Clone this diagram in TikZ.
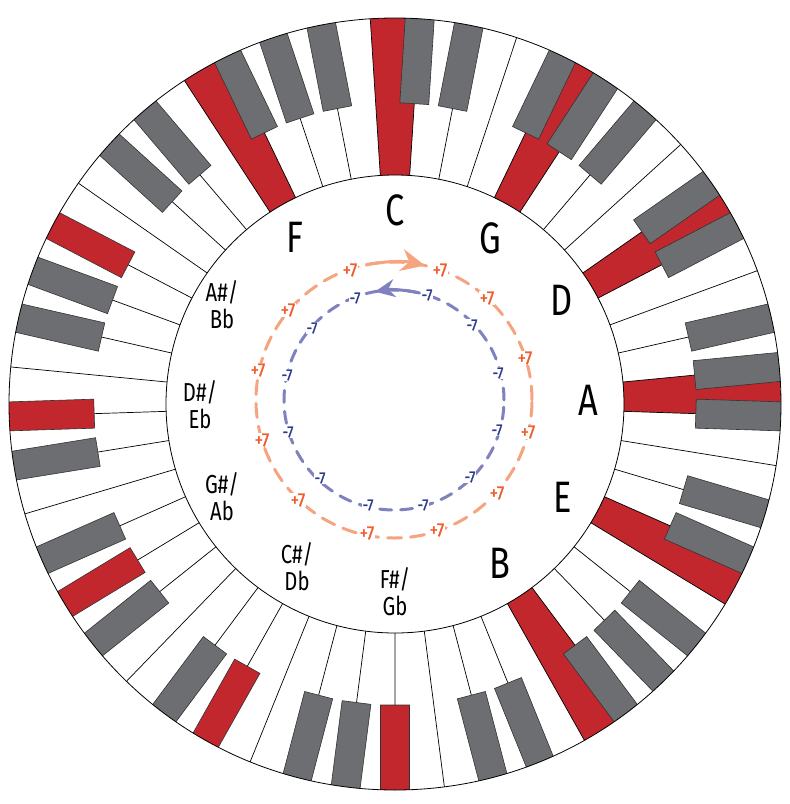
\documentclass[tikz,border=0pt]{standalone}
\usepackage{fontspec}
\setmainfont{Fira Sans}[FakeStretch=0.78]
\newfontfamily\labfont{Fira Sans}[FakeStretch=0.85,FakeBold=1.5]
\usetikzlibrary{arrows.meta}
\definecolor{keyred}{HTML}{C1272D}
\definecolor{keygray}{HTML}{6D6E71}
\definecolor{orlab}{HTML}{F15A29}
\definecolor{orring}{HTML}{F6A47F}
\definecolor{bllab}{HTML}{2B3990}
\definecolor{blring}{HTML}{7F82BF}
\tikzset{
  note/.style={font=\fontsize{44}{44}\selectfont, text=black, inner sep=0pt},
  note2/.style={font=\fontsize{26}{27}\selectfont, text=black, align=center, inner sep=0pt},
  plus/.style={font={\labfont\fontsize{19}{19}\selectfont}, text=orlab, fill=white, inner sep=1pt},
  minus/.style={font={\labfont\fontsize{16}{16}\selectfont}, text=bllab, fill=white, inner sep=1pt},
  divider/.style={line width=0.7pt, black},
  blackkey/.style={draw=black!80, line width=0.6pt},
}
\begin{document}
\begin{tikzpicture}[x=1pt,y=1pt]
\useasboundingbox (0,0) rectangle (790,-804);
\fill[white] (0,0) rectangle (790,-804);
\begin{scope}[shift={(395,-404)}]
\def\a{7.3469}
\begin{scope}
\clip (0,0) circle (386);
\foreach \w in {0,...,48}{
  \pgfmathtruncatemacro\isred{(\w==0)||(\w==4)||(\w==8)||(\w==12)||(\w==16)||(\w==20)||(\w==45)}
  \ifnum\isred=1
    \pgfmathsetmacro\ta{90-(\w-0.5)*\a}
    \pgfmathsetmacro\tb{90-(\w+0.5)*\a}
    \fill[keyred] (\ta:229) -- (\ta:386) arc[start angle=\ta,end angle=\tb,radius=386] -- (\tb:229) arc[start angle=\tb,end angle=\ta,radius=229] -- cycle;
  \fi
}
\foreach \w in {0,...,48}{
  \pgfmathsetmacro\tb{90-(\w+0.5)*\a}
  \draw[divider] (\tb:229) -- (\tb:390);
}
\foreach \w in {0,...,48}{
  \pgfmathtruncatemacro\n{mod(\w,7)}
  \pgfmathtruncatemacro\hasblack{(\n!=2)&&(\n!=6)}
  \ifnum\hasblack=1
    \pgfmathtruncatemacro\isred{(\w==24)||(\w==28)||(\w==32)||(\w==36)||(\w==40)}
    \pgfmathsetmacro\tb{90-(\w+0.5)*\a}
    \ifnum\isred=1 \def\kc{keyred}\else\def\kc{keygray}\fi
    \begin{scope}[rotate=\tb]
      \filldraw[blackkey, fill=\kc] (301,-14.5) rectangle (400,14.5);
    \end{scope}
  \fi
}
\end{scope}
\draw[line width=0.8pt] (0,0) circle (386);
\draw[line width=0.8pt] (0,0) circle (229);
\end{scope}
% rings
\begin{scope}[shift={(394,-400)}]
\draw[orring, line width=3pt, dash pattern=on 14pt off 9pt, line cap=round] (0,0) circle (138);
\draw[blring, line width=3pt, dash pattern=on 12pt off 9pt, line cap=round] (0,0) circle (110);
\end{scope}
\node[plus] (p1) at (350,-270) {+7};
\node[plus] (p2) at (440,-270) {+7};
\node[plus] (p3) at (487,-298) {+7};
\node[plus] (p4) at (525,-358) {+7};
\node[plus] (p5) at (528,-432) {+7};
\node[plus] (p6) at (497,-493) {+7};
\node[plus] (p7) at (437,-530) {+7};
\node[plus] (p8) at (367,-533) {+7};
\node[plus] (p9) at (298,-500) {+7};
\node[plus] (p10) at (262,-440) {+7};
\node[plus] (p11) at (258,-370) {+7};
\node[plus] (p12) at (288,-310) {+7};
\node[minus] (m1) at (355,-298) {-7};
\node[minus] (m2) at (427,-295) {-7};
\node[minus] (m3) at (472,-325) {-7};
\node[minus] (m4) at (498,-373) {-7};
\node[minus] (m5) at (497,-430) {-7};
\node[minus] (m6) at (470,-477) {-7};
\node[minus] (m7) at (423,-505) {-7};
\node[minus] (m8) at (368,-505) {-7};
\node[minus] (m9) at (320,-478) {-7};
\node[minus] (m10) at (288,-432) {-7};
\node[minus] (m11) at (287,-375) {-7};
\node[minus] (m12) at (312,-328) {-7};
\begin{scope}[shift={(394,-400)}]
\draw[orring, line width=3pt, -{Stealth[length=24pt,width=22pt]}] (102:138) arc[start angle=102, end angle=77, radius=138];
\draw[blring, line width=3pt, -{Stealth[length=20pt,width=18pt]}] (78:110) arc[start angle=78, end angle=100, radius=110];
\end{scope}
% note labels
\node[note] (c) at (395,-210) {C};
\node[note] (g) at (490,-238) {G};
\node[note] (d) at (562,-300) {D};
\node[note] (a) at (588,-400) {A};
\node[note] (e) at (563,-497) {E};
\node[note] (b) at (500,-563) {B};
\node[note2] (fs) at (395,-592) {F\#/\\Gb};
\node[note2] (cs) at (297,-567) {C\#/\\Db};
\node[note2] (gs) at (222,-497) {G\#/\\Ab};
\node[note2] (ds) at (200,-405) {D\#/\\Eb};
\node[note2] (as) at (222,-305) {A\#/\\Bb};
\node[note] (f) at (295,-237) {F};
\end{tikzpicture}
\end{document}
